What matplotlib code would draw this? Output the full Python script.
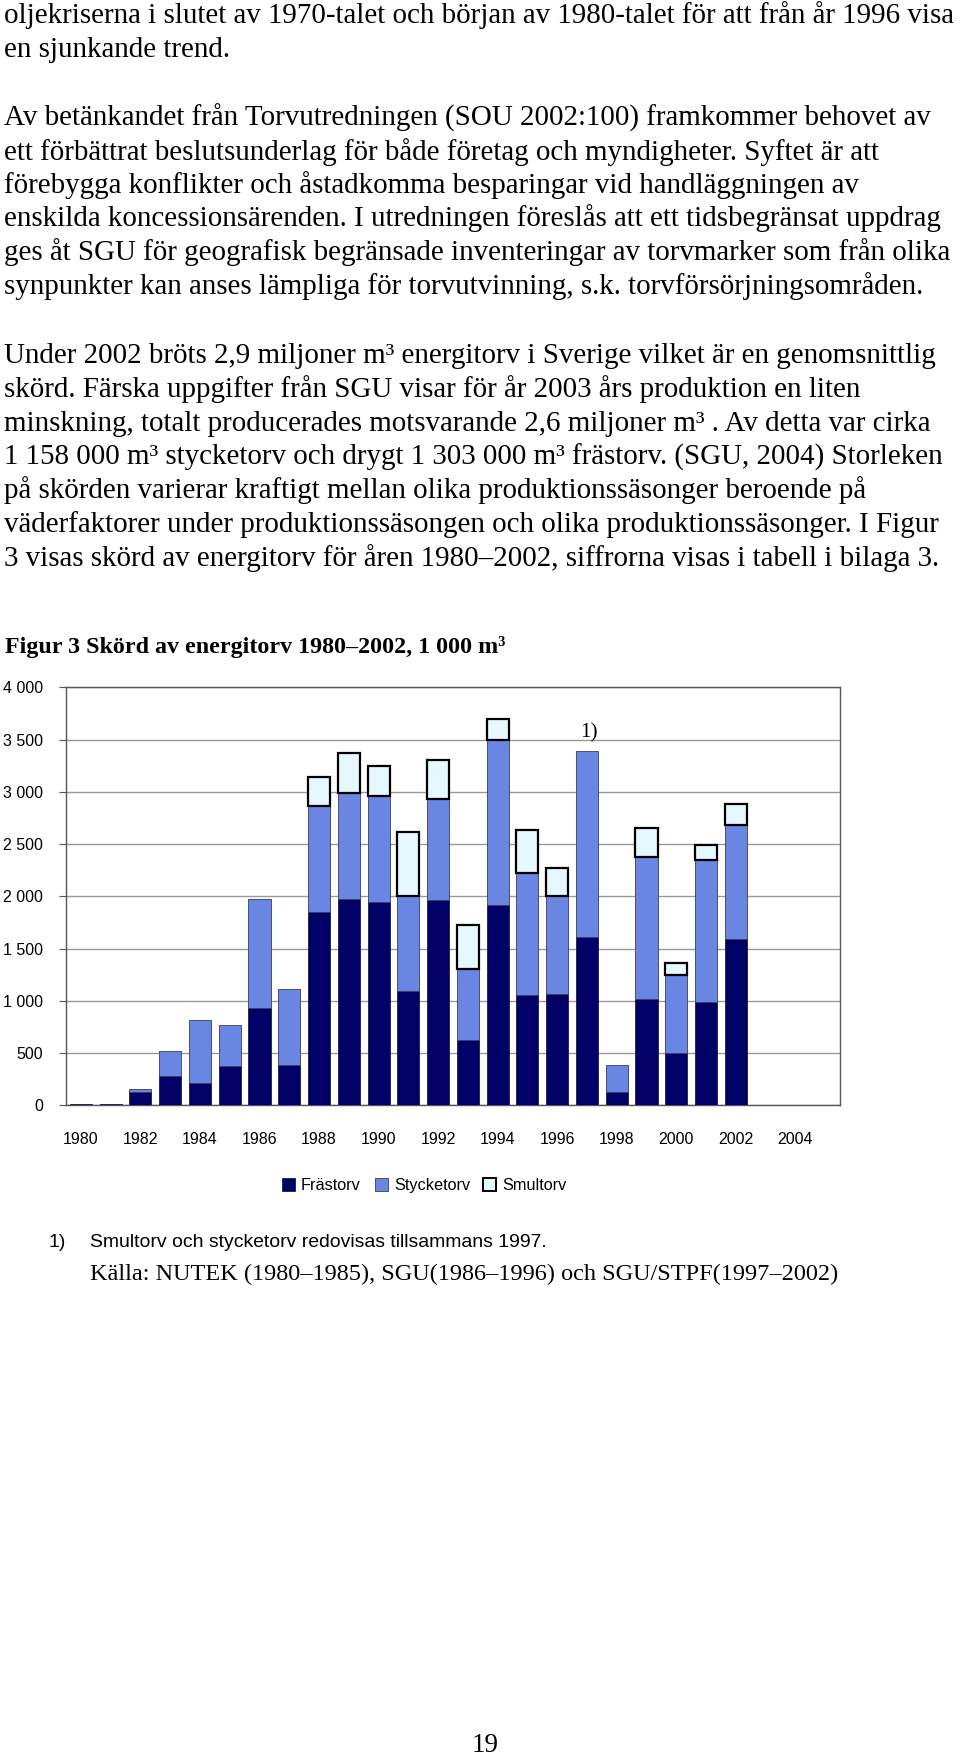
import matplotlib
matplotlib.use("Agg")
import matplotlib.pyplot as plt
from matplotlib.patches import Rectangle
import numpy as np

# ---------------- data ----------------
years = [1980, 1981, 1982, 1983, 1984, 1985, 1986, 1987, 1988, 1989, 1990,
         1991, 1992, 1993, 1994, 1995, 1996, 1997, 1998, 1999, 2000, 2001,
         2002, 2003, 2004, 2005]
data_years = years[:23]  # 1980-2002 have values
frastorv = [15, 15, 125, 285, 210, 380, 930, 390, 1850, 1975, 1945,
            1095, 1960, 625, 1915, 1055, 1065, 1615, 125, 1020, 500, 990, 1595]
stycketorv = [0, 0, 35, 230, 605, 385, 1045, 725, 1015, 1015, 1015,
              905, 970, 680, 1580, 1165, 935, 1775, 265, 1360, 745, 1360, 1085]
smultorv = [0, 0, 0, 0, 0, 0, 0, 0, 280, 385, 290,
            620, 370, 420, 205, 415, 270, 0, 0, 270, 120, 145, 205]
series_names = ["Frästorv", "Stycketorv", "Smultorv"]
ytick_values = [0, 500, 1000, 1500, 2000, 2500, 3000, 3500, 4000]
ytick_labels = ["0", "500", "1 000", "1 500", "2 000", "2 500", "3 000", "3 500", "4 000"]
xtick_labels = ["1980", "1982", "1984", "1986", "1988", "1990", "1992", "1994",
                "1996", "1998", "2000", "2002", "2004"]

title = "Figur 3 Skörd av energitorv 1980\u20132002, 1 000 m\u00b3"
note_label = "1)"
footnote = "Smultorv och stycketorv redovisas tillsammans 1997."
source = "Källa: NUTEK (1980\u20131985), SGU(1986\u20131996) och SGU/STPF(1997\u20132002)"
page_number = "19"

body_lines = [
    "oljekriserna i slutet av 1970-talet och början av 1980-talet för att från år 1996 visa",
    "en sjunkande trend.",
    "Av betänkandet från Torvutredningen (SOU 2002:100) framkommer behovet av",
    "ett förbättrat beslutsunderlag för både företag och myndigheter. Syftet är att",
    "förebygga konflikter och åstadkomma besparingar vid handläggningen av",
    "enskilda koncessionsärenden. I utredningen föreslås att ett tidsbegränsat uppdrag",
    "ges åt SGU för geografisk begränsade inventeringar av torvmarker som från olika",
    "synpunkter kan anses lämpliga för torvutvinning, s.k. torvförsörjningsområden.",
    "Under 2002 bröts 2,9 miljoner m\u00b3 energitorv i Sverige vilket är en genomsnittlig",
    "skörd. Färska uppgifter från SGU visar för år 2003 års produktion en liten",
    "minskning, totalt producerades motsvarande 2,6 miljoner m\u00b3 . Av detta var cirka",
    "1 158 000 m\u00b3 stycketorv och drygt 1 303 000 m\u00b3 frästorv. (SGU, 2004) Storleken",
    "på skörden varierar kraftigt mellan olika produktionssäsonger beroende på",
    "väderfaktorer under produktionssäsongen och olika produktionssäsonger. I Figur",
    "3 visas skörd av energitorv för åren 1980\u20132002, siffrorna visas i tabell i bilaga 3.",
]
body_baselines = [23, 57, 126, 159.5, 193, 226.5, 260, 293.5,
                  363, 397, 431, 465, 498.5, 532, 565.5]

# ---------------- style ----------------
W, H = 960, 1757
DPI = 100
PX = 72.0 / DPI  # points per pixel
col_fras = "#000066"
col_styck = "#6987E2"
col_smul = "#E6F8FF"
serif = ["Liberation Serif", "DejaVu Serif"]
sans = ["Liberation Sans", "DejaVu Sans"]

fig = plt.figure(figsize=(W / DPI, H / DPI), dpi=DPI)
fig.patch.set_facecolor("white")

# pixel overlay axes for page text
bg = fig.add_axes([0, 0, 1, 1], zorder=0)
bg.set_xlim(0, W)
bg.set_ylim(H, 0)
bg.axis("off")

# chart axes
left, right, top, bottom = 66, 840, 687.3, 1105.3
ax = fig.add_axes([left / W, 1 - bottom / H, (right - left) / W, (bottom - top) / H], zorder=2)

x_all = np.arange(len(years))
x = np.arange(len(data_years))
f = np.array(frastorv, dtype=float)
s = np.array(stycketorv, dtype=float)
m = np.array(smultorv, dtype=float)
bw = 0.74

ax.bar(x, f, width=bw, color=col_fras, edgecolor="#1a1a40", linewidth=0.6, zorder=3)
ms = s > 0
ax.bar(x[ms], s[ms], bottom=f[ms], width=bw, color=col_styck, edgecolor="#3a3a60",
       linewidth=0.6, zorder=3)
mm = m > 0
ax.bar(x[mm], m[mm], bottom=(f + s)[mm], width=bw, color=col_smul, edgecolor="black",
       linewidth=1.6, zorder=4)

ax.set_xlim(-0.5, len(years) - 0.5)
ax.set_ylim(0, 4000)
ax.set_yticks(ytick_values)
ax.set_yticklabels(ytick_labels, family=sans, fontsize=16 * PX)
ax.set_xticks(x_all[::2])
ax.set_xticklabels(xtick_labels, family=sans, fontsize=16 * PX)
ax.tick_params(axis="y", length=5, width=0.8, color="#555555", pad=11.5)
ax.tick_params(axis="x", length=0, pad=19)
ax.yaxis.grid(True, color="#999999", linewidth=1.0, zorder=0)
ax.set_axisbelow(True)
for sp in ax.spines.values():
    sp.set_color("#555555")
    sp.set_linewidth(1.0)

ax.text(17.08, 3515, note_label, family=serif, fontsize=21 * PX, ha="center",
        va="baseline", zorder=5)

# ---------------- page text ----------------
for line, yb in zip(body_lines, body_baselines):
    bg.text(4, yb, line, family=serif, fontsize=29 * PX, va="baseline", ha="left")

bg.text(5, 653, title, family=serif, fontweight="bold", fontsize=24 * PX,
        va="baseline", ha="left")

# legend
leg_items = [(282, col_fras, "#1a1a40", 0.6, 300.5),
             (375, col_styck, "#3a3a60", 0.6, 394),
             (483, col_smul, "black", 1.4, 502)]
for (sx, fc, ec, lw, tx), name in zip(leg_items, series_names):
    bg.add_patch(Rectangle((sx, 1178), 12.5, 12.5, facecolor=fc, edgecolor=ec, linewidth=lw))
    bg.text(tx, 1190, name, family=sans, fontsize=16.2 * PX, va="baseline", ha="left")

bg.text(48, 1247, note_label, family=sans, fontsize=19.4 * PX, va="baseline", ha="left")
bg.text(90, 1247, footnote, family=sans, fontsize=19.4 * PX, va="baseline", ha="left")
bg.text(90, 1280, source, family=serif, fontsize=24.3 * PX, va="baseline", ha="left")
bg.text(485, 1752, page_number, family=serif, fontsize=27 * PX, va="baseline", ha="center")

fig.savefig("out.png", dpi=DPI, facecolor="white")
